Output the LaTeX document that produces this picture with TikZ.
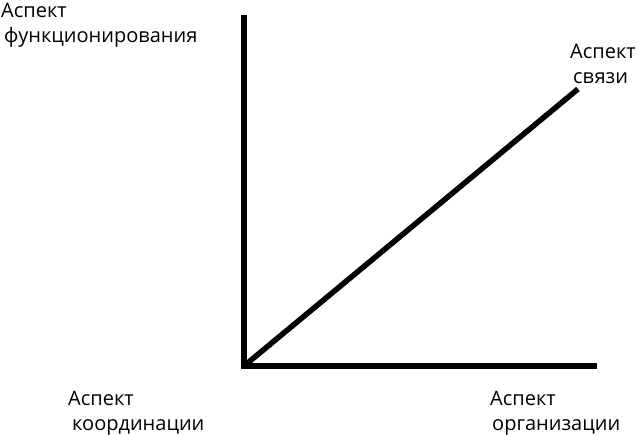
\documentclass[tikz,border=0pt]{standalone}
\usepackage{fontspec}
\setmainfont{Open Sans}
\begin{document}
\begin{tikzpicture}[x=1pt,y=1pt,
  axis/.style={line width=5.5pt},
  lbl/.style={inner sep=0pt,anchor=base west,align=left,font=\fontsize{20}{25}\selectfont}]
\useasboundingbox (0,0) rectangle (640,435);
\coordinate (O) at (244,69);
\coordinate (T) at (244,420);
\coordinate (R) at (597,69);
\coordinate (D) at (578,346);
\draw[axis] (T) -- (O) -- (R);
\draw[axis] (O) -- (D);
\node[lbl] (lf) at (1,392) {Аспект\\\hspace{3pt}функционирования};
\node[lbl] (ls) at (570,351) {Аспект\\\hspace{3pt}связи};
\node[lbl] (lk) at (68,4) {Аспект\\\hspace{4pt}координации};
\node[lbl] (lo) at (490,4) {Аспект\\\hspace{2pt}организации};
\end{tikzpicture}
\end{document}
